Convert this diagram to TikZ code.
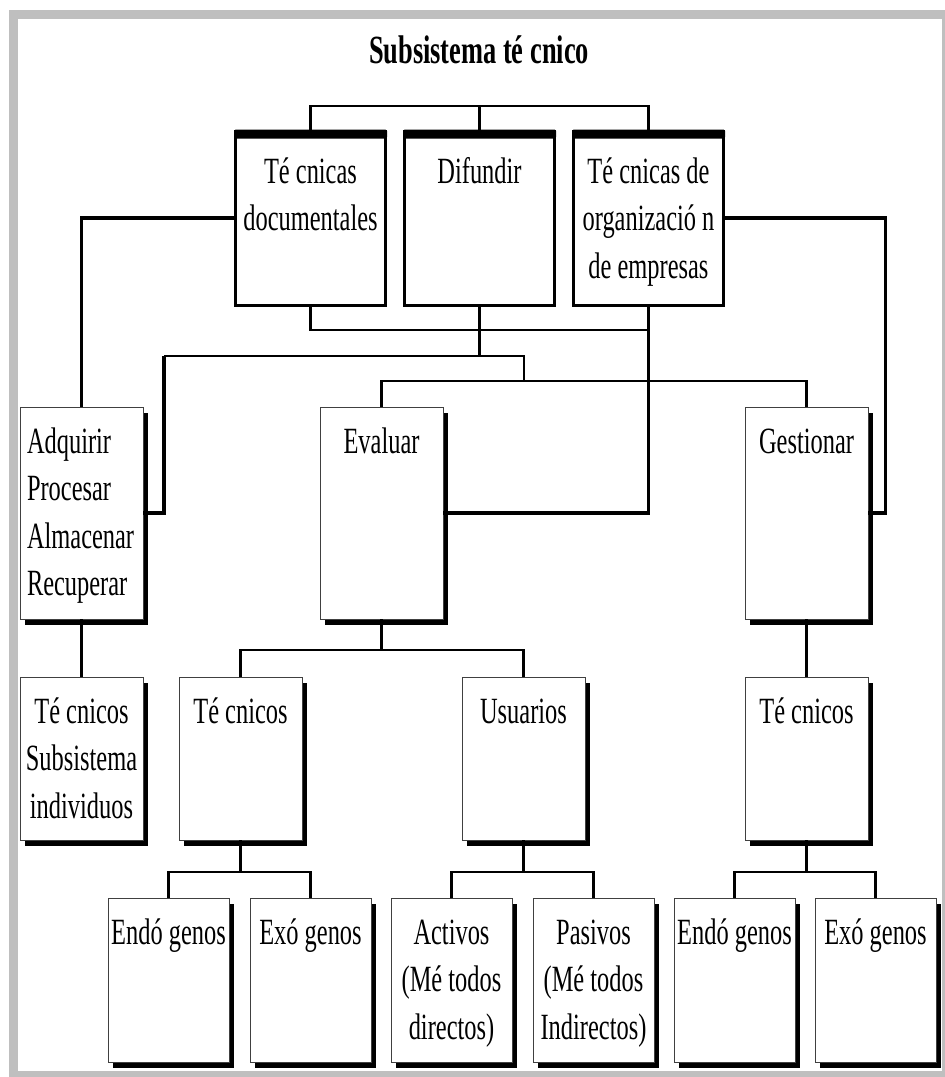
\documentclass[tikz,border=0pt]{standalone}
\usepackage{fontspec}
\setmainfont{Liberation Serif}[FakeStretch=0.66]
\usetikzlibrary{shadows}
\newcommand{\boxtext}[4][\centering]{\parbox[t][#3][t]{#2}{#1\rule{0pt}{46pt}#4}}

\begin{document}
\begin{tikzpicture}[x=1pt, y=-1pt,
  box/.style={draw=black!75, line width=0.8pt, fill=white, inner sep=0pt, outer sep=0pt,
    anchor=north west, font={\fontsize{37pt}{47.5pt}\selectfont},
    drop shadow={shadow xshift=5pt, shadow yshift=-6pt, opacity=1, fill=black}},
  topbox/.style={draw=black, line width=3pt, fill=white, inner sep=0pt, outer sep=0pt,
    anchor=north west, font={\fontsize{37pt}{47.5pt}\selectfont}},
  link/.style={draw=black, line width=2.8pt},
  heavy/.style={draw=black, line width=3.8pt},
  frame/.style={draw=black!25, line width=9pt}]
\useasboundingbox (0,0) rectangle (945,1077);
\draw[frame] (13.5,14.5) rectangle (946.5,1075.5);

\node[font={\bfseries\fontsize{40pt}{48pt}\selectfont}, anchor=base] (title) at (479,63) {Subsistema té cnico};

\node[topbox] (tdoc) at (235.5,131) {\boxtext{150pt}{174pt}{\rule{0pt}{52pt}Té cnicas\\documentales}};
\node[topbox] (dif) at (404.5,131) {\boxtext{150pt}{174pt}{\rule{0pt}{52pt}Difundir}};
\node[topbox] (torg) at (573.5,131) {\boxtext{150pt}{174pt}{\rule{0pt}{52pt}Té cnicas de\\organizació n\\de empresas}};
\foreach \n in {tdoc,dif,torg}
  \fill[rounded corners=1.5pt] ([xshift=-1.5pt,yshift=1.5pt]\n.north west) rectangle ([xshift=1.5pt,yshift=-7.5pt]\n.north east);

\node[box] (adq) at (20,407) {\boxtext[\raggedright\leftskip=7pt]{123pt}{212pt}{Adquirir\\Procesar\\Almacenar\\Recuperar}};
\node[box] (eval) at (320,407) {\boxtext{123pt}{212pt}{Evaluar}};
\node[box] (gest) at (745,407) {\boxtext{123pt}{212pt}{Gestionar}};

\node[box] (tsub) at (20,677) {\boxtext{123pt}{163pt}{Té cnicos\\Subsistema\\individuos}};
\node[box] (tev) at (179,677) {\boxtext{123pt}{163pt}{Té cnicos}};
\node[box] (usu) at (462,677) {\boxtext{123pt}{163pt}{Usuarios}};
\node[box] (tge) at (745,677) {\boxtext{123pt}{163pt}{Té cnicos}};

\node[box] (en1) at (108,898) {\boxtext{121pt}{164pt}{Endó~genos}};
\node[box] (ex1) at (250,898) {\boxtext{121pt}{164pt}{Exó~genos}};
\node[box] (act) at (391,898) {\boxtext{121pt}{164pt}{Activos\\(Mé~todos\\directos)}};
\node[box] (pas) at (533,898) {\boxtext{121pt}{164pt}{Pasivos\\(Mé~todos\\Indirectos)}};
\node[box] (en2) at (674,898) {\boxtext{121pt}{164pt}{Endó~genos}};
\node[box] (ex2) at (815,898) {\boxtext{121pt}{164pt}{Exó~genos}};

\coordinate (hubL) at (164,356);
\coordinate (hubR) at (524,381);
\draw[link] (tdoc.north) -- ++(0,-25) -| (torg.north);
\draw[link] (dif.north) -- ++(0,-25);
\draw[link] (tdoc.south) -- ++(0,25) -| (torg.south);
\draw[heavy] (torg.south) |- (eval.east);
\draw[link] (dif.south) |- (hubL);
\draw[link] (hubL) -| (hubR);
\draw[heavy] (hubL) |- (adq.east);
\draw[link] (eval.north) |- (hubR) -| (gest.north);
\draw[heavy] (tdoc.west) -| (adq.north);
\draw[heavy] (torg.east) -- ++(162,0) |- (gest.east);

\draw[link] (adq.south) -- (tsub.north);
\draw[link] (gest.south) -- (tge.north);
\draw[link] (eval.south) -- ++(0,31);
\draw[link] (tev.north) -- ++(0,-27) -| (usu.north);
\foreach \p/\a/\b in {tev/en1/ex1, usu/act/pas, tge/en2/ex2} {
  \draw[link] (\p.south) -- ++(0,32);
  \draw[link] (\a.north) -- ++(0,-26) -| (\b.north);
}
\end{tikzpicture}
\end{document}
